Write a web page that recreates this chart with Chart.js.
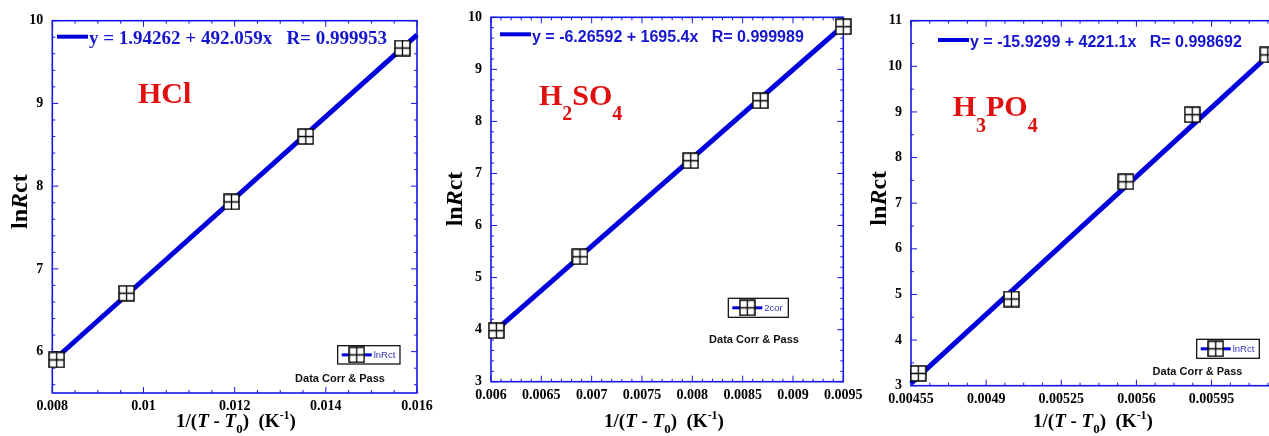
<!DOCTYPE html>
<html>
<head>
<meta charset="utf-8">
<script src="https://cdn.jsdelivr.net/npm/chart.js@4.4.1/dist/chart.umd.min.js"></script>
<style>
  html, body { margin: 0; padding: 0; background: #fff; overflow: hidden; }
  #wrap { position: relative; width: 1269px; height: 436px; overflow: hidden; }
  #wrap canvas { position: absolute; top: 0; }
</style>
</head>
<body>
<div id="wrap">
  <canvas id="c1" width="440" height="436" style="left:0px;width:440px;height:436px"></canvas>
  <canvas id="c2" width="440" height="436" style="left:430px;width:440px;height:436px"></canvas>
  <canvas id="c3" width="440" height="436" style="left:860px;width:440px;height:436px"></canvas>
</div>
<script>
// ---- data ----
const hclX = [0.008096, 0.00963, 0.01193, 0.01356, 0.01568];
const hclY = [5.90, 6.706, 7.81, 8.60, 9.67];
const hclFitX = [0.00808, 0.016];
const hclFitY = [5.92, 9.83];
const hclXTicks = [0.008, 0.01, 0.012, 0.014, 0.016];
const hclYTicks = [6, 7, 8, 9, 10];

const h2so4X = [0.006053, 0.006884, 0.007984, 0.008675, 0.0095];
const h2so4Y = [3.98, 5.40, 7.245, 8.398, 9.82];
const h2so4FitX = [0.00605, 0.0095];
const h2so4FitY = [3.99, 9.84];
const h2so4XTicks = [0.006, 0.0065, 0.007, 0.0075, 0.008, 0.0085, 0.009, 0.0095];
const h2so4YTicks = [3, 4, 5, 6, 7, 8, 9, 10];

const h3po4X = [0.004584, 0.005018, 0.005551, 0.00586, 0.006212];
const h3po4Y = [3.27, 4.90, 7.47, 8.94, 10.25];
const h3po4FitX = [0.00455, 0.00621];
const h3po4FitY = [3.05, 10.22];
const h3po4XTicks = [0.00455, 0.0049, 0.00525, 0.0056, 0.00595];
const h3po4YTicks = [3, 4, 5, 6, 7, 8, 9, 10, 11];

// ---- styles ----
const SERIF = '"Liberation Serif", "Times New Roman", serif';
const SANS = '"Liberation Sans", Arial, sans-serif';
const BLUE = '#0000dc';
const AXIS = '#1414e6';
const RED = '#e01010';

// square-with-cross marker
const marker = (function () {
  const c = document.createElement('canvas');
  c.width = 17; c.height = 17;
  const g = c.getContext('2d');
  g.fillStyle = '#fff';
  g.fillRect(1, 1, 15, 15);
  g.strokeStyle = '#000';
  g.lineWidth = 1.5;
  g.strokeRect(1, 1, 15, 15);
  g.lineWidth = 1.3;
  g.beginPath();
  g.moveTo(8.5, 1); g.lineTo(8.5, 16);
  g.moveTo(1, 8.5); g.lineTo(16, 8.5);
  g.stroke();
  return c;
})();

function pts(xs, ys) { return xs.map((v, i) => ({ x: v, y: ys[i] })); }

function textWidth(ctx, runs) {
  let w = 0;
  runs.forEach((r) => { ctx.font = r.font; w += ctx.measureText(r.t).width; });
  return w;
}

function drawRuns(ctx, x, y, runs, align) {
  let cx = align === 'center' ? x - textWidth(ctx, runs) / 2 : x;
  runs.forEach((r) => {
    ctx.font = r.font;
    ctx.fillText(r.t, cx, y + (r.dy || 0));
    cx += ctx.measureText(r.t).width;
  });
}

const B = (s, f) => 'bold ' + s + 'px ' + (f || SERIF);
const BI = (s) => 'italic bold ' + s + 'px ' + SERIF;

function yTitleRuns() {
  return [{ t: 'ln', font: B(24) }, { t: 'R', font: BI(24) }, { t: 'ct', font: B(24) }];
}
function xTitleRuns() {
  return [
    { t: '1/(', font: B(19) }, { t: 'T', font: BI(19) }, { t: ' - ', font: B(19) },
    { t: 'T', font: BI(19) }, { t: '0', font: B(13), dy: 6 }, { t: ')  (K', font: B(19) },
    { t: '-1', font: B(12), dy: -8 }, { t: ')', font: B(19) }
  ];
}

function makePanel(id, off, p) {
  const frame = {
    id: 'frame' + id,
    beforeDatasetsDraw(chart) {
      const ctx = chart.ctx;
      const a = chart.chartArea;
      const xs = chart.scales.x, ys = chart.scales.y;
      ctx.save();
      ctx.strokeStyle = AXIS;
      ctx.lineWidth = 1;
      const isMajor = (v, step) => Math.abs(v / step - Math.round(v / step)) < 1e-6;
      let k0 = Math.ceil(xs.min / p.xMinor - 1e-6), k1 = Math.floor(xs.max / p.xMinor + 1e-6);
      ctx.beginPath();
      for (let k = k0; k <= k1; k++) {
        const v = k * p.xMinor;
        const px = xs.getPixelForValue(v);
        const len = isMajor(v - p.xTicks[0], p.xMajor) ? 6 : 3;
        ctx.moveTo(px, a.bottom); ctx.lineTo(px, a.bottom - len);
        ctx.moveTo(px, a.top); ctx.lineTo(px, a.top + len);
      }
      k0 = Math.ceil(ys.min / p.yMinor - 1e-6); k1 = Math.floor(ys.max / p.yMinor + 1e-6);
      for (let k = k0; k <= k1; k++) {
        const v = k * p.yMinor;
        const py = ys.getPixelForValue(v);
        const len = isMajor(v, 1) ? 6 : 3;
        ctx.moveTo(a.left, py); ctx.lineTo(a.left + len, py);
        ctx.moveTo(a.right, py); ctx.lineTo(a.right - len, py);
      }
      ctx.stroke();
      ctx.lineWidth = 1.6;
      ctx.strokeRect(a.left, a.top, a.right - a.left, a.bottom - a.top);
      ctx.restore();
    },
    afterDraw(chart) {
      const ctx = chart.ctx;
      ctx.save();
      // fit equation
      ctx.strokeStyle = BLUE;
      ctx.lineWidth = 4;
      ctx.beginPath();
      ctx.moveTo(p.eq.x0 - off, p.eq.ly); ctx.lineTo(p.eq.x1 - off, p.eq.ly);
      ctx.stroke();
      ctx.fillStyle = '#1515d0';
      ctx.textBaseline = 'middle';
      drawRuns(ctx, p.eq.tx - off, p.eq.ty, [{ t: p.eq.text, font: p.eq.font }], 'left');
      // acid label
      ctx.textBaseline = 'alphabetic';
      ctx.fillStyle = RED;
      drawRuns(ctx, p.label.x - off, p.label.y, p.label.runs, 'left');
      // legend box
      const lg = p.legend;
      ctx.strokeStyle = '#000';
      ctx.lineWidth = 1.2;
      ctx.strokeRect(lg.x - off, lg.y, lg.w, lg.h);
      ctx.strokeStyle = BLUE;
      ctx.lineWidth = 3;
      ctx.beginPath();
      ctx.moveTo(lg.x + 4 - off, lg.y + lg.h / 2);
      ctx.lineTo(lg.x + 34 - off, lg.y + lg.h / 2);
      ctx.stroke();
      ctx.drawImage(marker, lg.x + 19 - off - 8.5, lg.y + lg.h / 2 - 8.5);
      ctx.fillStyle = '#3434b8';
      ctx.textBaseline = 'middle';
      drawRuns(ctx, lg.x + 36 - off, lg.y + lg.h / 2 + 0.5, [{ t: lg.text, font: '9.5px ' + SANS }], 'left');
      ctx.fillStyle = '#111';
      drawRuns(ctx, p.dcp.x - off, p.dcp.y, [{ t: 'Data Corr & Pass', font: B(11, SANS) }], 'center');
      // axis titles
      ctx.fillStyle = '#000';
      ctx.textBaseline = 'alphabetic';
      drawRuns(ctx, p.xt.x - off, p.xt.y, xTitleRuns(), 'center');
      ctx.translate(p.yt.x - off, p.yt.y);
      ctx.rotate(-Math.PI / 2);
      ctx.textBaseline = 'middle';
      drawRuns(ctx, 0, 0, yTitleRuns(), 'center');
      ctx.restore();
    }
  };

  const tickFont = { family: SERIF, size: 14, weight: 'bold' };
  return new Chart(document.getElementById(id), {
    type: 'scatter',
    data: {
      datasets: [
        { data: pts(p.x, p.y), pointStyle: marker, pointRadius: 8, showLine: false, clip: false },
        { data: pts(p.fitX, p.fitY), showLine: true, borderColor: BLUE, borderWidth: 5, pointRadius: 0, clip: false }
      ]
    },
    options: {
      responsive: false,
      animation: false,
      events: [],
      layout: { padding: p.pad },
      plugins: { legend: { display: false }, tooltip: { enabled: false } },
      scales: {
        x: {
          type: 'linear', min: p.xMin, max: p.xMax,
          afterBuildTicks: (s) => { s.ticks = p.xTicks.map((v) => ({ value: v })); },
          afterFit: (s) => { s.height = p.xH; s.paddingLeft = 0; s.paddingRight = 0; },
          grid: { display: false, drawTicks: false },
          border: { display: false },
          ticks: { padding: 5, color: '#000', font: tickFont, maxRotation: 0, autoSkip: false, callback: (v) => String(v) }
        },
        y: {
          type: 'linear', min: p.yMin, max: p.yMax,
          afterBuildTicks: (s) => { s.ticks = p.yTicks.map((v) => ({ value: v })); },
          afterFit: (s) => { s.width = p.yW; s.paddingTop = 0; s.paddingBottom = 0; },
          grid: { display: false, drawTicks: false },
          border: { display: false },
          ticks: { padding: 9, color: '#000', font: tickFont, autoSkip: false, callback: (v) => String(v) }
        }
      }
    },
    plugins: [frame]
  });
}

makePanel('c1', 0, {
  x: hclX, y: hclY, fitX: hclFitX, fitY: hclFitY,
  xTicks: hclXTicks, yTicks: hclYTicks, xMin: 0.008, xMax: 0.016, yMin: 5.5, yMax: 10,
  xMajor: 0.002, xMinor: 0.0005, yMinor: 0.2,
  pad: { left: 0, top: 20.7, right: 23, bottom: 0 }, yW: 52.3, xH: 43,
  eq: { x0: 57, x1: 88, ly: 36.7, tx: 89, ty: 39, font: B(19), text: 'y = 1.94262 + 492.059x   R= 0.999953' },
  label: { x: 138, y: 103, runs: [{ t: 'HCl', font: B(30) }] },
  legend: { x: 337.7, y: 345.7, w: 62.3, h: 18.3, text: 'lnRct' },
  dcp: { x: 340, y: 379.3 },
  xt: { x: 236, y: 426.7 }, yt: { x: 20.7, y: 201.7 }
});

makePanel('c2', 430, {
  x: h2so4X, y: h2so4Y, fitX: h2so4FitX, fitY: h2so4FitY,
  xTicks: h2so4XTicks, yTicks: h2so4YTicks, xMin: 0.006, xMax: 0.0095, yMin: 3, yMax: 10,
  xMajor: 0.0005, xMinor: 0.0001, yMinor: 0.2,
  pad: { left: 0, top: 17.3, right: 26.7, bottom: 0 }, yW: 61, xH: 54.3,
  eq: { x0: 500, x1: 531, ly: 34.3, tx: 532, ty: 37.3, font: B(16, SANS), text: 'y = -6.26592 + 1695.4x   R= 0.999989' },
  label: { x: 539, y: 105, runs: [{ t: 'H', font: B(30) }, { t: '2', font: B(20), dy: 15 }, { t: 'SO', font: B(30) }, { t: '4', font: B(20), dy: 15 }] },
  legend: { x: 728.3, y: 298.3, w: 60, h: 19, text: '2cor' },
  dcp: { x: 754, y: 340 },
  xt: { x: 664, y: 427 }, yt: { x: 455.7, y: 199 }
});

makePanel('c3', 860, {
  x: h3po4X, y: h3po4Y, fitX: h3po4FitX, fitY: h3po4FitY,
  xTicks: h3po4XTicks, yTicks: h3po4YTicks, xMin: 0.00455, xMax: 0.0063, yMin: 3, yMax: 11,
  xMajor: 0.00035, xMinor: 0.0000875, yMinor: 0.5,
  pad: { left: 0, top: 20.7, right: 13.3, bottom: 0 }, yW: 51, xH: 50.3,
  eq: { x0: 938, x1: 969, ly: 40, tx: 970, ty: 42.7, font: B(16, SANS), text: 'y = -15.9299 + 4221.1x   R= 0.998692' },
  label: { x: 952.7, y: 116, runs: [{ t: 'H', font: B(30) }, { t: '3', font: B(20), dy: 15.7 }, { t: 'PO', font: B(30) }, { t: '4', font: B(20), dy: 15.7 }] },
  legend: { x: 1196.7, y: 339.3, w: 62.6, h: 19, text: 'lnRct' },
  dcp: { x: 1197.5, y: 372.3 },
  xt: { x: 1093, y: 427 }, yt: { x: 879.3, y: 198.3 }
});
</script>
</body>
</html>
